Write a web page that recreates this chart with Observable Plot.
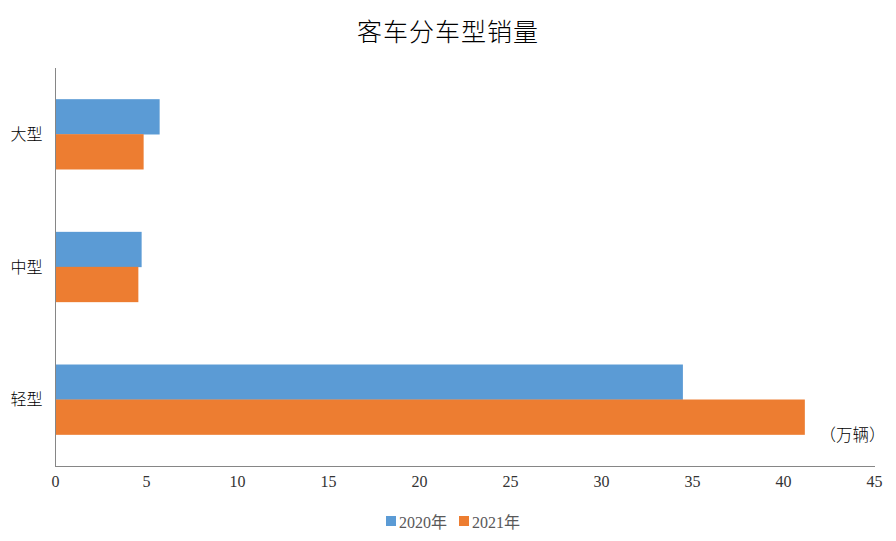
<!DOCTYPE html>
<html>
<head>
<meta charset="utf-8">
<script src="https://cdn.jsdelivr.net/npm/d3@7"></script>
<script src="https://cdn.jsdelivr.net/npm/@observablehq/plot@0.6"></script>
<style>
  body { margin: 0; background: #fff; width: 896px; height: 541px; overflow: hidden; }
  #title { height: 60px; line-height: 60px; text-align: center; font-family: "Noto Sans CJK SC", sans-serif; font-weight: 300; font-size: 25px; color: #000; letter-spacing: 1px; }
  #legend { height: 41px; display: flex; justify-content: center; align-items: center; font-family: "Liberation Serif", "Noto Sans CJK SC", serif; font-size: 16px; color: #595959; padding-left: 10px; }
  #legend span.sw { display: inline-block; width: 10px; height: 10px; margin-right: 3px; }
  #legend span.item { display: inline-flex; align-items: center; margin: 0 6px; }
  svg { display: block; }
</style>
</head>
<body>
<div id="title">客车分车型销量</div>
<div id="chart"></div>
<div id="legend"></div>
<script>
const categories = ["大型", "中型", "轻型"];
const series = ["2020年", "2021年"];
const values2020 = [5.75, 4.76, 34.5];
const values2021 = [4.87, 4.58, 41.2];
const xTicks = [0, 5, 10, 15, 20, 25, 30, 35, 40, 45];
const unitLabel = "（万辆）";
const colors = ["#5b9bd5", "#ed7d31"];

const d2020 = categories.map((c, i) => ({category: c, value: values2020[i]}));
const d2021 = categories.map((c, i) => ({category: c, value: values2021[i]}));

const chart = Plot.plot({
  width: 896,
  height: 440,
  marginTop: 8,
  marginBottom: 34,
  marginLeft: 55,
  marginRight: 22,
  style: {fontFamily: "'Liberation Serif', 'Noto Sans CJK SC', serif", fontSize: "16px", color: "#000"},
  x: {domain: [0, 45], ticks: xTicks, tickSize: 0, tickPadding: 9, label: null},
  y: {domain: categories, paddingInner: 0.47, paddingOuter: 0.235, tickSize: 0, tickPadding: 13, label: null, round: false},
  marks: [
    Plot.barX(d2020, {y: "category", x: "value", fill: colors[0], insetBottom: 35, insetTop: 0}),
    Plot.barX(d2021, {y: "category", x: "value", fill: colors[1], insetTop: 35, insetBottom: 0}),
    Plot.ruleX([0], {stroke: "#868686", strokeWidth: 1}),
    Plot.frame({anchor: "bottom", stroke: "#868686"}),
    Plot.text([unitLabel], {frameAnchor: "bottom-right", text: d => d, textAnchor: "end", dx: 11, dy: -26, fontSize: 16.5, fill: "#000", fontWeight: 300, fontFamily: "'Noto Sans CJK SC', sans-serif"})
  ]
});
chart.querySelectorAll('g[aria-label="y-axis tick label"] text').forEach(t => { t.style.fontSize = "16px"; t.style.fontWeight = "300"; t.style.fontFamily = "'Noto Sans CJK SC', sans-serif"; });
chart.querySelectorAll('g[aria-label="x-axis tick label"] text').forEach(t => { t.style.fill = "#333"; });
document.getElementById("chart").appendChild(chart);

const legend = document.getElementById("legend");
series.forEach((s, i) => {
  const item = document.createElement("span");
  item.className = "item";
  item.innerHTML = `<span class="sw" style="background:${colors[i]}"></span>${s}`;
  legend.appendChild(item);
});
</script>
</body>
</html>
